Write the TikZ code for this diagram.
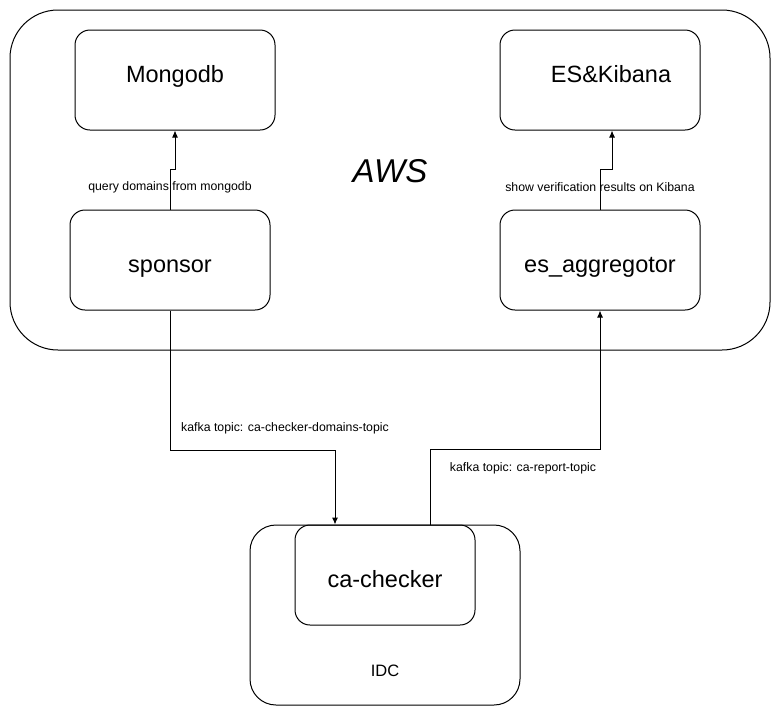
\documentclass[tikz,border=0pt]{standalone}
\usepackage{fontspec}
\setmainfont{Liberation Sans}
\usetikzlibrary{arrows.meta}
\tikzstyle{box}=[rectangle,draw=black,line width=1pt,rounded corners=15pt,minimum width=200pt,minimum height=100pt,inner sep=0pt,text height=27pt,text depth=3pt,font=\fontsize{23.5}{26}\selectfont]
\tikzstyle{high}=[text height=17.5pt,text depth=12.5pt]
\tikzstyle{zone}=[rectangle,draw=black,line width=1pt,inner sep=0pt]
\tikzstyle{lbl}=[font=\fontsize{12.3}{14}\selectfont,inner sep=1pt]
\tikzstyle{flow}=[->,>={Latex[length=7pt,width=6pt]},line width=1pt]

\begin{document}
\begin{tikzpicture}[x=1pt,y=-1pt]
\useasboundingbox (0,0) rectangle (781,716);
% the two zones
\node[zone,rounded corners=48pt,minimum width=760pt,minimum height=340pt] (aws) at (390,180) {};
\node[font=\fontsize{33}{38}\selectfont\itshape] (awslbl) at (390,171) {AWS};
\node[zone,rounded corners=26pt,minimum width=270pt,minimum height=180pt] (idc) at (385,615) {};
\node[font=\fontsize{16.5}{18}\selectfont] (idclbl) at (385,671) {IDC};
% services
\node[box,high] (mongo) at (175,80) {Mongodb};
\node[box,high] (kibana) at (600,80) {\hspace*{22pt}ES\&Kibana};
\node[box] (sponsor) at (170,260) {sponsor};
\node[box] (esagg) at (600,260) {es\_aggregotor};
\node[box,minimum width=180pt] (checker) at (385,575) {ca-checker};
% flows
\draw[flow] (sponsor.north) -- ++(0,-40) -| (mongo.south);
\node[lbl] (qlbl) at ([yshift=22pt]sponsor.north) {query domains from mongodb};
\draw[flow] (esagg.north) -- ++(0,-40) -| ([xshift=12pt]kibana.south);
\node[lbl] (slbl) at ([yshift=22pt]esagg.north) {show verification results on Kibana};
\draw[flow] (sponsor.south) -- ++(0,140) -| ([xshift=-50pt]checker.north);
\node[lbl] (k1lbl) at (285,428) {kafka topic: ca-checker-domains-topic};
\draw[flow] ([xshift=45pt]checker.north) -- ++(0,-75) -| (esagg.south);
\node[lbl] (k2lbl) at (523,468) {kafka topic: ca-report-topic};
\end{tikzpicture}
\end{document}
